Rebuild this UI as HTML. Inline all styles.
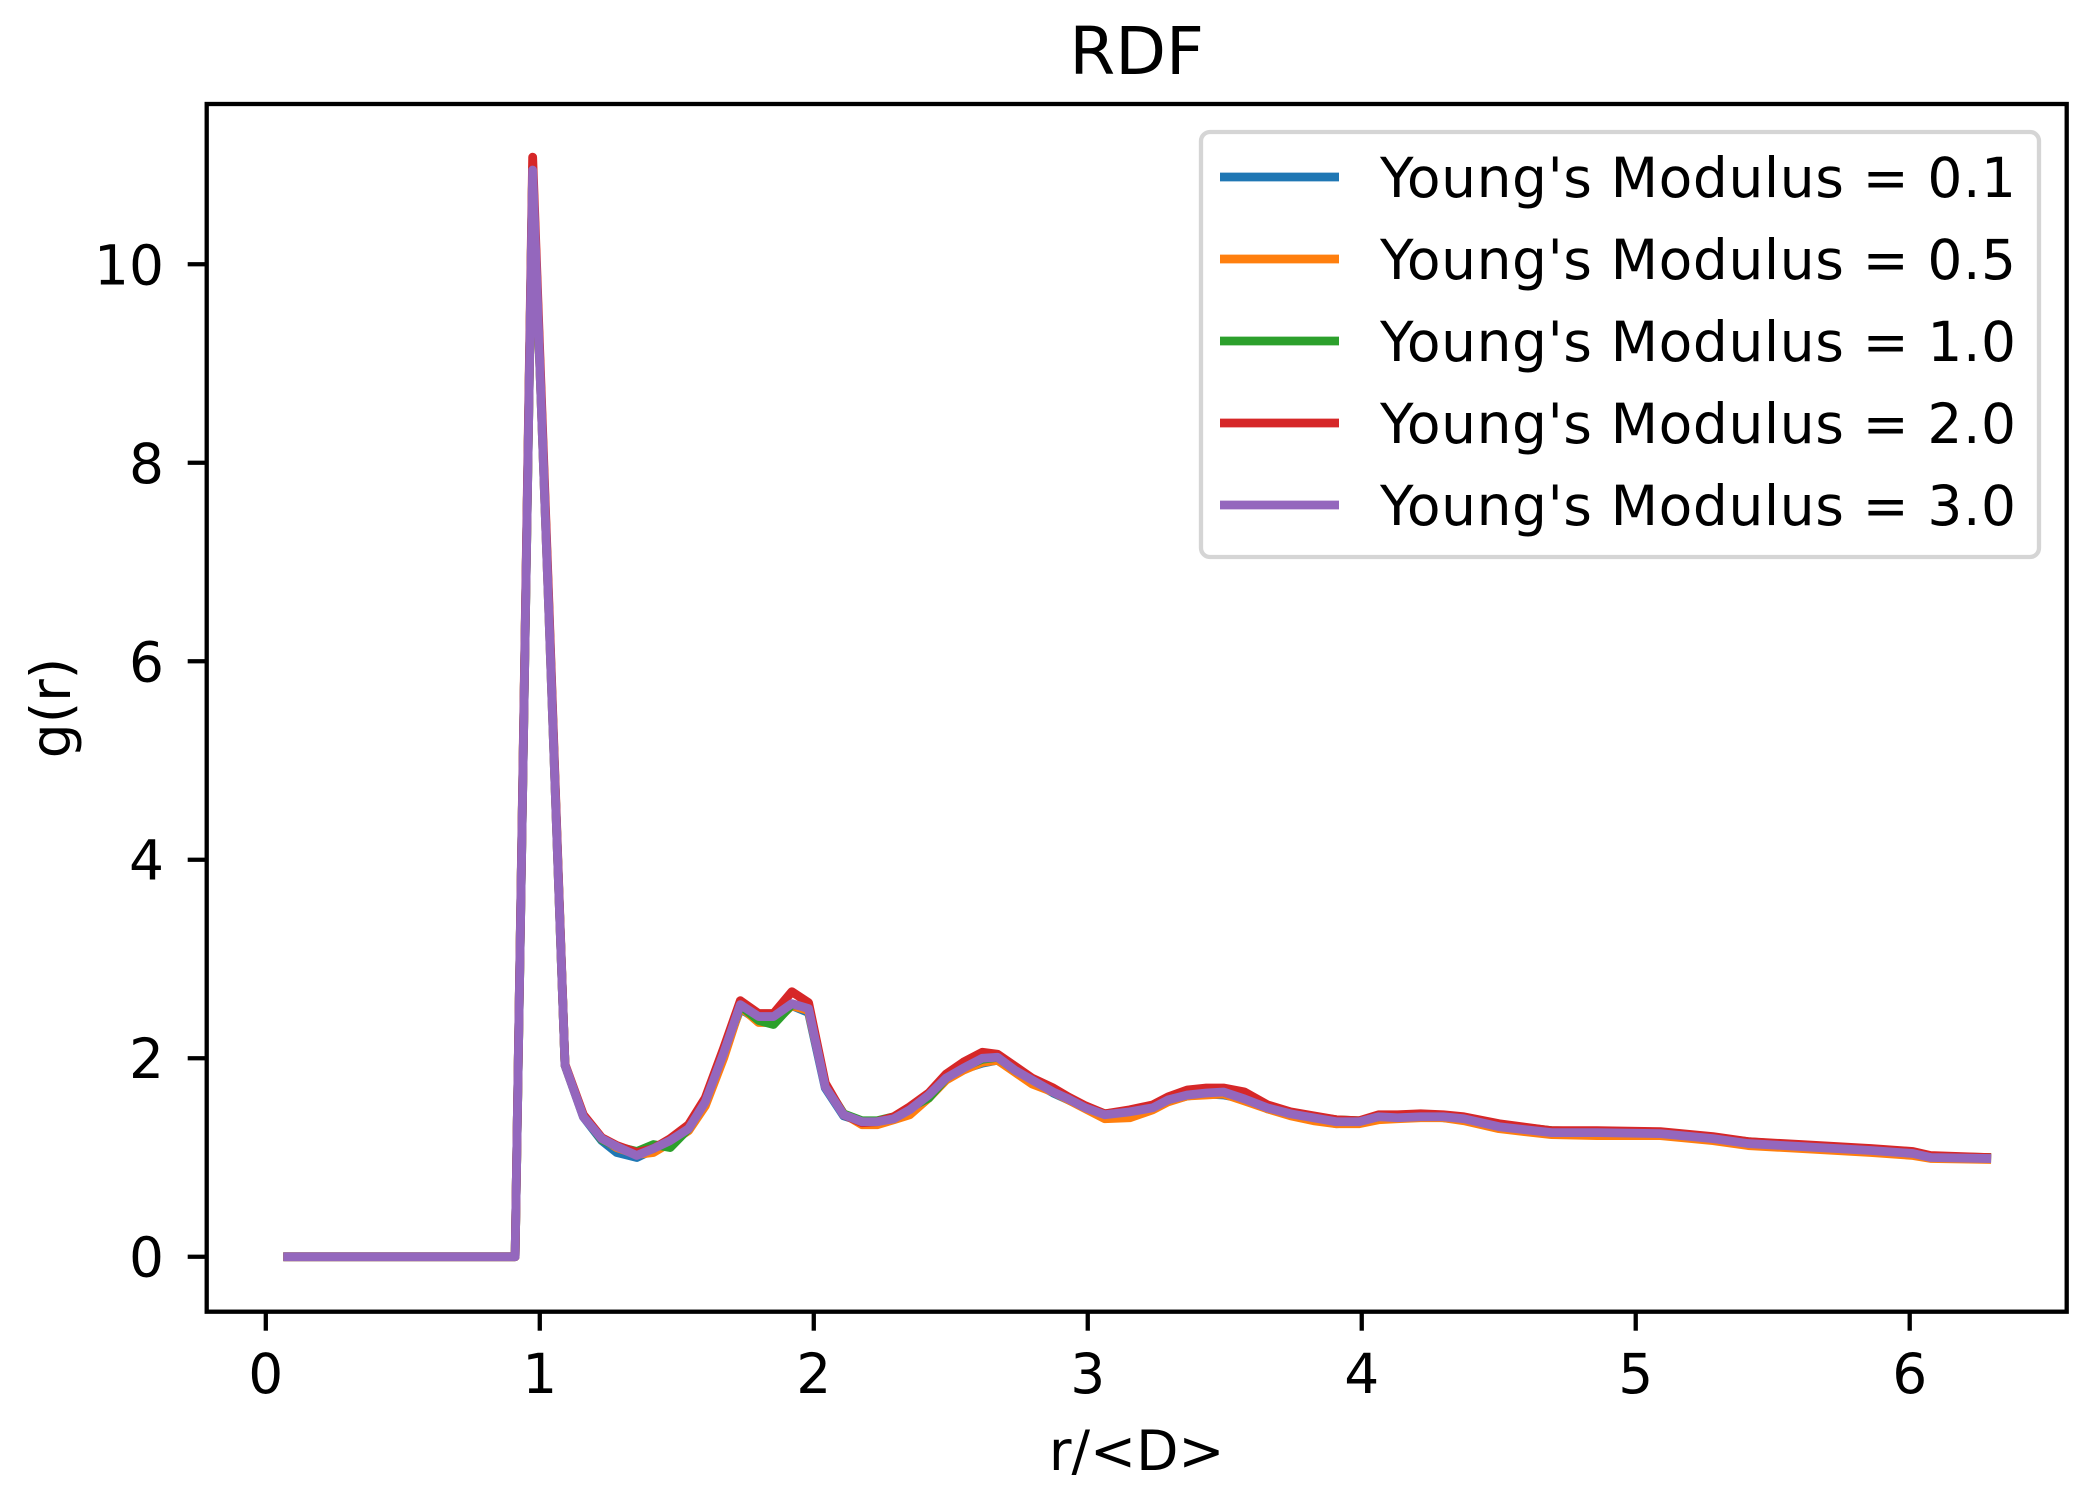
<!DOCTYPE html>
<html><head><meta charset="utf-8"><style>
html,body{margin:0;padding:0;background:#fff;}
svg{display:block;font-family:"DejaVu Sans","Liberation Sans",sans-serif;}
</style></head><body>
<svg id="chart" width="2091" height="1512" viewBox="0 0 2091 1512" xmlns="http://www.w3.org/2000/svg">
<rect width="2091" height="1512" fill="#fff"/>
<text x="1136.7" y="74" font-size="66" text-anchor="middle">RDF</text>
<g id="plot"></g>
<rect x="206.7" y="104" width="1860" height="1207.7" fill="none" stroke="#000" stroke-width="4.3"/>
<g id="ticks"></g>
<text x="1136.7" y="1470" font-size="55" text-anchor="middle">r/&lt;D&gt;</text>
<text transform="translate(70,708) rotate(-90)" font-size="55" text-anchor="middle">g(r)</text>
<g id="legend"></g>
</svg>
<script>
const rValues = [0.08,0.91,0.974,1.033,1.092,1.159,1.226,1.281,1.354,1.415,1.476,1.543,1.604,1.671,1.732,1.799,1.853,1.920,1.981,2.042,2.109,2.176,2.231,2.292,2.350,2.420,2.483,2.546,2.615,2.671,2.734,2.797,2.874,2.929,2.992,3.062,3.153,3.237,3.293,3.363,3.433,3.495,3.572,3.656,3.740,3.824,3.907,3.991,4.061,4.131,4.215,4.298,4.373,4.501,4.693,4.859,5.090,5.282,5.410,5.602,5.730,5.858,6.012,6.076,6.281];
const gE01 = [0,0,10.95,6.5,1.93,1.41,1.17,1.05,1.00,1.08,1.17,1.31,1.58,2.05,2.50,2.38,2.40,2.53,2.46,1.70,1.42,1.36,1.36,1.40,1.50,1.64,1.79,1.89,1.95,1.98,1.87,1.77,1.65,1.58,1.50,1.42,1.45,1.49,1.57,1.62,1.64,1.63,1.59,1.49,1.43,1.39,1.34,1.35,1.40,1.40,1.41,1.40,1.38,1.30,1.24,1.24,1.23,1.18,1.13,1.10,1.08,1.06,1.03,1.00,0.99];
const gE05 = [0,0,10.95,6.5,1.93,1.42,1.19,1.10,1.03,1.05,1.15,1.27,1.52,2.00,2.52,2.36,2.36,2.53,2.48,1.73,1.44,1.33,1.33,1.38,1.43,1.60,1.78,1.88,1.96,1.98,1.86,1.74,1.66,1.58,1.49,1.39,1.40,1.48,1.56,1.62,1.63,1.64,1.57,1.49,1.42,1.37,1.34,1.34,1.38,1.39,1.40,1.40,1.37,1.29,1.23,1.22,1.22,1.17,1.12,1.09,1.07,1.05,1.02,0.99,0.98];
const gE10 = [0,0,10.98,6.55,1.93,1.42,1.18,1.11,1.06,1.13,1.10,1.29,1.57,2.07,2.53,2.38,2.34,2.54,2.52,1.73,1.44,1.37,1.37,1.41,1.50,1.60,1.80,1.91,1.99,2.01,1.88,1.79,1.67,1.60,1.51,1.44,1.47,1.51,1.58,1.64,1.66,1.66,1.60,1.51,1.45,1.41,1.38,1.37,1.41,1.42,1.43,1.42,1.40,1.33,1.27,1.26,1.25,1.20,1.16,1.12,1.10,1.08,1.05,1.01,1.00];
const gE20 = [0,0,11.08,6.6,1.94,1.43,1.20,1.12,1.05,1.09,1.19,1.33,1.60,2.10,2.58,2.45,2.45,2.67,2.56,1.75,1.43,1.35,1.36,1.41,1.51,1.65,1.84,1.96,2.06,2.04,1.92,1.80,1.70,1.61,1.52,1.44,1.48,1.53,1.61,1.68,1.70,1.70,1.66,1.53,1.46,1.42,1.38,1.37,1.43,1.43,1.44,1.43,1.41,1.34,1.27,1.27,1.26,1.21,1.16,1.13,1.11,1.09,1.06,1.02,1.00];
const gE30 = [0,0,10.95,6.5,1.93,1.41,1.19,1.11,1.02,1.09,1.17,1.29,1.56,2.05,2.54,2.42,2.42,2.55,2.50,1.71,1.43,1.36,1.36,1.39,1.48,1.63,1.80,1.90,2.00,2.01,1.88,1.78,1.66,1.59,1.50,1.43,1.46,1.50,1.58,1.63,1.65,1.66,1.59,1.50,1.44,1.40,1.36,1.36,1.41,1.40,1.41,1.41,1.39,1.31,1.25,1.25,1.24,1.19,1.14,1.11,1.09,1.07,1.04,1.00,0.99];
const seriesLabels = ["Young's Modulus = 0.1","Young's Modulus = 0.5","Young's Modulus = 1.0","Young's Modulus = 2.0","Young's Modulus = 3.0"];
const xTicks = [0,1,2,3,4,5,6];
const yTicks = [0,2,4,6,8,10];

const NS = "http://www.w3.org/2000/svg";
const colors = ["#1f77b4","#ff7f0e","#2ca02c","#d62728","#9467bd"];
const xMin=-0.2157, xMax=6.573, yMin=-0.554, yMax=11.615;
const L=206.7, R=2066.7, T=104, B=1311.7;
function xs(v){return L+(v-xMin)/(xMax-xMin)*(R-L);}
function ys(v){return B-(v-yMin)/(yMax-yMin)*(B-T);}
function mk(tag, attrs, parent){const e=document.createElementNS(NS,tag);for(const k in attrs)e.setAttribute(k,attrs[k]);parent.appendChild(e);return e;}

const plot=document.getElementById('plot');
const all=[gE01,gE05,gE10,gE20,gE30];
all.forEach((g,si)=>{
  const pts=rValues.map((r,i)=>xs(r).toFixed(2)+","+ys(g[i]).toFixed(2)).join(" ");
  const pl=mk('polyline',{points:pts,fill:"none",stroke:colors[si],"stroke-width":8.8,"stroke-linejoin":"round","stroke-linecap":"square"},plot);
  
  
});

const tk=document.getElementById('ticks');
xTicks.forEach(v=>{
  const x=xs(v);
  const ln=mk('line',{x1:x,x2:x,y1:B,y2:B+19,stroke:"#000","stroke-width":4.3},tk);
  
  
  const t=mk('text',{x:x,y:1393,"font-size":55,"text-anchor":"middle"},tk);
  t.textContent=String(v);
  
  
});
yTicks.forEach(v=>{
  const y=ys(v);
  const ln=mk('line',{x1:L-19,x2:L,y1:y,y2:y,stroke:"#000","stroke-width":4.3},tk);
  
  
  const t=mk('text',{x:164,y:y+20,"font-size":55,"text-anchor":"end"},tk);
  t.textContent=String(v);
  
  
});

const lg=document.getElementById('legend');
const box=mk('rect',{x:1201,y:132,width:838,height:425,rx:9,fill:"#fff","fill-opacity":0.8,stroke:"#d5d5d5","stroke-width":4.3},lg);


seriesLabels.forEach((lab,i)=>{
  const y=177+i*82;
  const ln=mk('line',{x1:1220,x2:1339,y1:y,y2:y,stroke:colors[i],"stroke-width":8.8},lg);
  
  
  const t=mk('text',{x:1380,y:y+20,"font-size":55,"letter-spacing":"0.6"},lg);
  t.textContent=lab;
  
  
});
</script>
</body></html>
